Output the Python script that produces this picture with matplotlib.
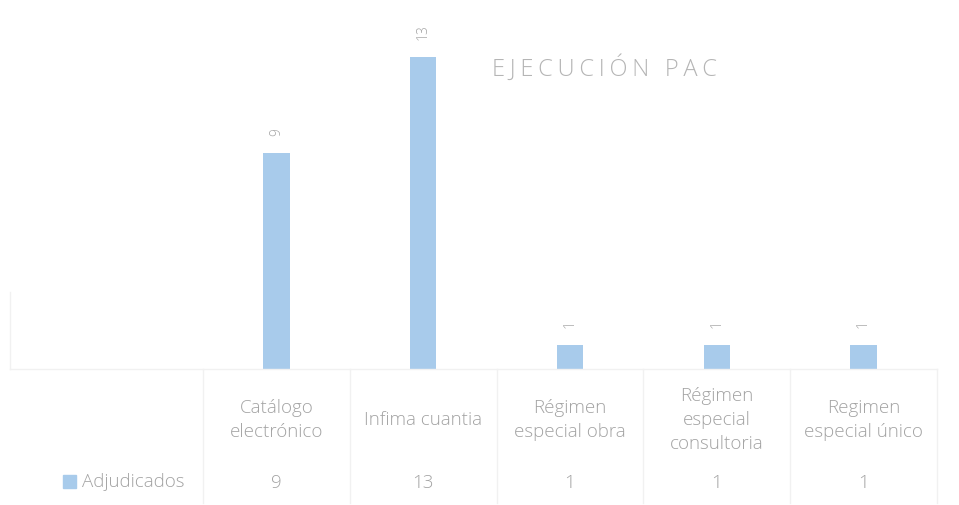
import matplotlib.pyplot as plt
import numpy as np

categories = ["Catálogo\nelectrónico", "Infima cuantia", "Régimen\nespecial obra",
              "Régimen\nespecial\nconsultoria", "Regimen\nespecial único"]
adjudicados = [9, 13, 1, 1, 1]
series_name = "Adjudicados"
title = "EJECUCIÓN PAC"

bar_color = "#a8cbeb"
text_color = "#a3a3a3"
line_color = "#f1f1f1"

plt.rcParams['font.family'] = ['Open Sans', 'DejaVu Sans']

fig = plt.figure(figsize=(9.59, 5.06), dpi=100)
ax = fig.add_axes([0.2117, 0.269, 0.7653, 0.664])

x = np.arange(len(categories))
bars = ax.bar(x, adjudicados, width=0.18, color=bar_color)

ax.set_xlim(-0.5, len(categories) - 0.5)
ax.set_ylim(0, 14)
ax.set_xticks([])
ax.set_yticks([])
for s in ax.spines.values():
    s.set_visible(False)

# data labels (rotated, as in the original)
for b, v in zip(bars, adjudicados):
    ax.annotate(str(v), (b.get_x() + b.get_width() / 2, v), xytext=(0, 13),
                textcoords="offset points", rotation=90, ha="center", va="bottom",
                fontsize=10, color=text_color, fontweight="light")

# category labels and data table values
xt = ax.get_xaxis_transform()
for xi, cat, v in zip(x, categories, adjudicados):
    ax.text(xi, -0.149, cat, transform=xt, ha="center", va="center",
            fontsize=13.5, color=text_color, linespacing=1.45, fontweight="light")
    ax.text(xi, -0.336, str(v), transform=xt, ha="center", va="center",
            fontsize=13.5, color=text_color, fontweight="light")

# data table faint grid
for xb in np.arange(-0.5, len(categories), 1.0):
    ax.plot([xb, xb], [0, -0.40], transform=xt, color=line_color, lw=1, clip_on=False)
fig.add_artist(plt.Line2D([0.01, 0.977], [0.269, 0.269], color=line_color, lw=1))
fig.add_artist(plt.Line2D([0.01, 0.01], [0.269, 0.42], color=line_color, lw=1))

# legend key in the data table
fig.patches.append(plt.Rectangle((0.066, 0.034), 0.0135, 0.026, color=bar_color,
                                 transform=fig.transFigure, figure=fig))
fig.text(0.086, 0.047, series_name, ha="left", va="center", fontsize=13.5,
         color=text_color, fontweight="light")

fig.text(0.63, 0.864, "\u2009".join(title).replace("\u2009 \u2009", "\u2009\u2009 "),
         ha="center", va="center", fontsize=17, color="#b5b5b5", fontweight="light")

fig.savefig("out.png", dpi=100, facecolor="white")
